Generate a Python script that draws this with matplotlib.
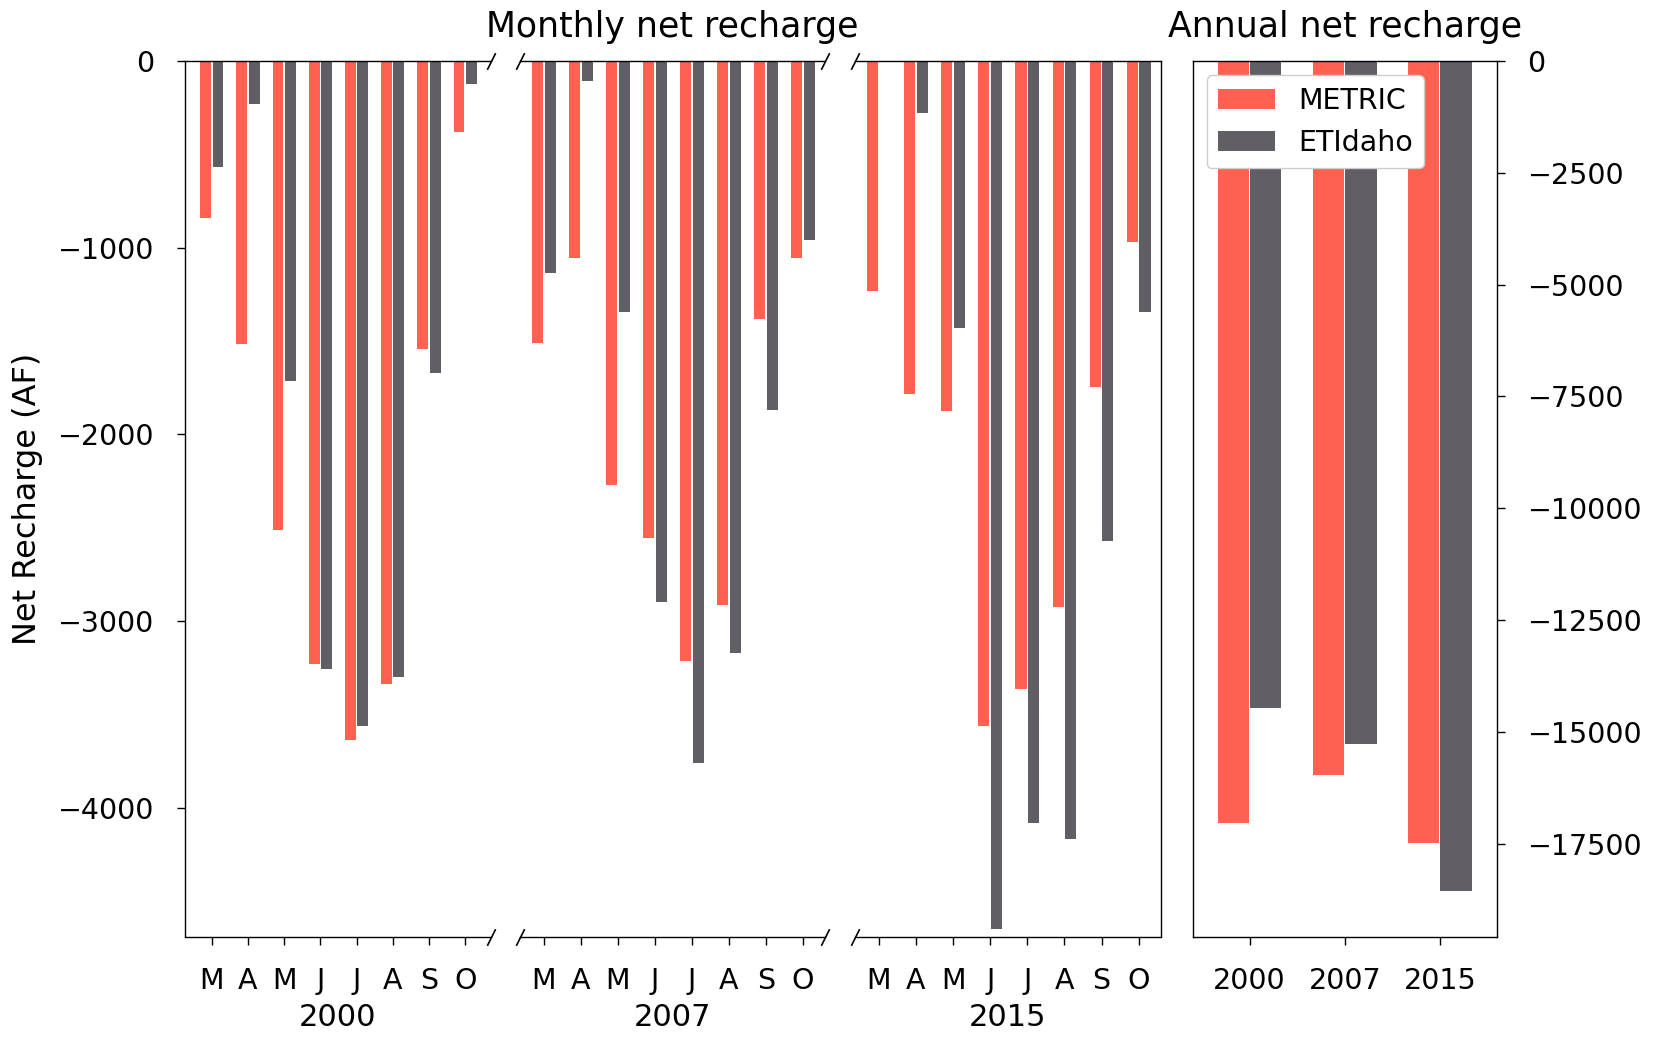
import matplotlib
matplotlib.use("Agg")
import matplotlib.pyplot as plt
import numpy as np

# Months March..October and the three study years
months = ["M", "A", "M", "J", "J", "A", "S", "O"]
years = ["2000", "2007", "2015"]

# Monthly net recharge (acre-feet)
metric_2000 = [-843, -1516, -2510, -3230, -3635, -3340, -1542, -382]
etidaho_2000 = [-568, -232, -1712, -3255, -3562, -3302, -1670, -125]
metric_2007 = [-1508, -1056, -2271, -2555, -3213, -2912, -1382, -1054]
etidaho_2007 = [-1135, -105, -1344, -2897, -3762, -3172, -1869, -958]
metric_2015 = [-1230, -1782, -1876, -3561, -3363, -2925, -1748, -968]
etidaho_2015 = [0, -278, -1430, -4648, -4082, -4168, -2570, -1347]

# Annual net recharge (acre-feet)
annual_metric = [-17040, -15966, -17490]
annual_etidaho = [-14458, -15265, -18570]

RED = "#ff6150"
GRAY = "#625e66"
TICK_FS = 20.5

W, H = 1654, 1037
fig = plt.figure(figsize=(W / 100, H / 100), dpi=100)

bottom = 1 - 936.5 / H
height = (936.5 - 61) / H


def axes_at(x0, x1):
    return fig.add_axes([x0 / W, bottom, (x1 - x0) / W, height])


ax1 = axes_at(185, 490.5)
ax2 = axes_at(519.5, 825)
ax3 = axes_at(855, 1161)
ax4 = axes_at(1192.5, 1497)

monthly = [
    (ax1, metric_2000, etidaho_2000, years[0], (-0.74, 7.70)),
    (ax2, metric_2007, etidaho_2007, years[1], (-0.66, 7.60)),
    (ax3, metric_2015, etidaho_2015, years[2], (-0.64, 7.60)),
]

x = np.arange(len(months))
bw = 0.30
off = 0.17
for ax, met, eti, yr, xl in monthly:
    ax.bar(x - off, met, width=bw, color=RED, linewidth=0)
    ax.bar(x + off, eti, width=bw, color=GRAY, linewidth=0)
    ax.set_xlim(*xl)
    ax.set_ylim(-4690, 0)
    ax.set_xticks(x)
    ax.set_xticklabels(months)
    ax.set_xlabel(yr, fontsize=22, labelpad=6)
    ax.tick_params(axis="both", labelsize=TICK_FS, pad=16, length=6, width=1)
    for s in ax.spines.values():
        s.set_linewidth(1.0)

ax1.set_yticks([0, -1000, -2000, -3000, -4000])
ax1.spines["right"].set_visible(False)
for ax in (ax2, ax3):
    ax.spines["left"].set_visible(False)
    ax.tick_params(axis="y", left=False, labelleft=False)
ax2.spines["right"].set_visible(False)

# Diagonal break marks between the monthly panels
d = 2
kw = dict(marker=[(-1, -d), (1, d)], markersize=12, linestyle="none",
          color="k", mec="k", mew=1.2, clip_on=False)
ax1.plot([1, 1], [0, 1], transform=ax1.transAxes, **kw)
ax2.plot([0, 0, 1, 1], [0, 1, 0, 1], transform=ax2.transAxes, **kw)
ax3.plot([0, 0], [0, 1], transform=ax3.transAxes, **kw)

ax2.set_title("Monthly net recharge", fontsize=25, pad=17)

# Annual panel
xa = np.arange(len(years))
abw = 0.33
ax4.bar(xa - off, annual_metric, width=abw, color=RED, linewidth=0, label="METRIC")
ax4.bar(xa + off, annual_etidaho, width=abw, color=GRAY, linewidth=0, label="ETIdaho")
ax4.set_xlim(-0.6, 2.6)
ax4.set_ylim(-19577, 0)
ax4.set_xticks(xa)
ax4.set_xticklabels(years)
ax4.set_yticks(np.arange(0, -17501, -2500))
ax4.yaxis.tick_right()
ax4.tick_params(axis="both", labelsize=TICK_FS, pad=16, length=6, width=1)
for s in ax4.spines.values():
    s.set_linewidth(1.0)
ax4.set_title("Annual net recharge", fontsize=25, pad=17)
ax4.legend(loc="upper left", fontsize=TICK_FS, framealpha=1)

fig.text(28 / W, 1 - 499 / H, "Net Recharge (AF)", rotation=90,
         ha="center", va="center", fontsize=23)

fig.savefig("out.png", dpi=100)
